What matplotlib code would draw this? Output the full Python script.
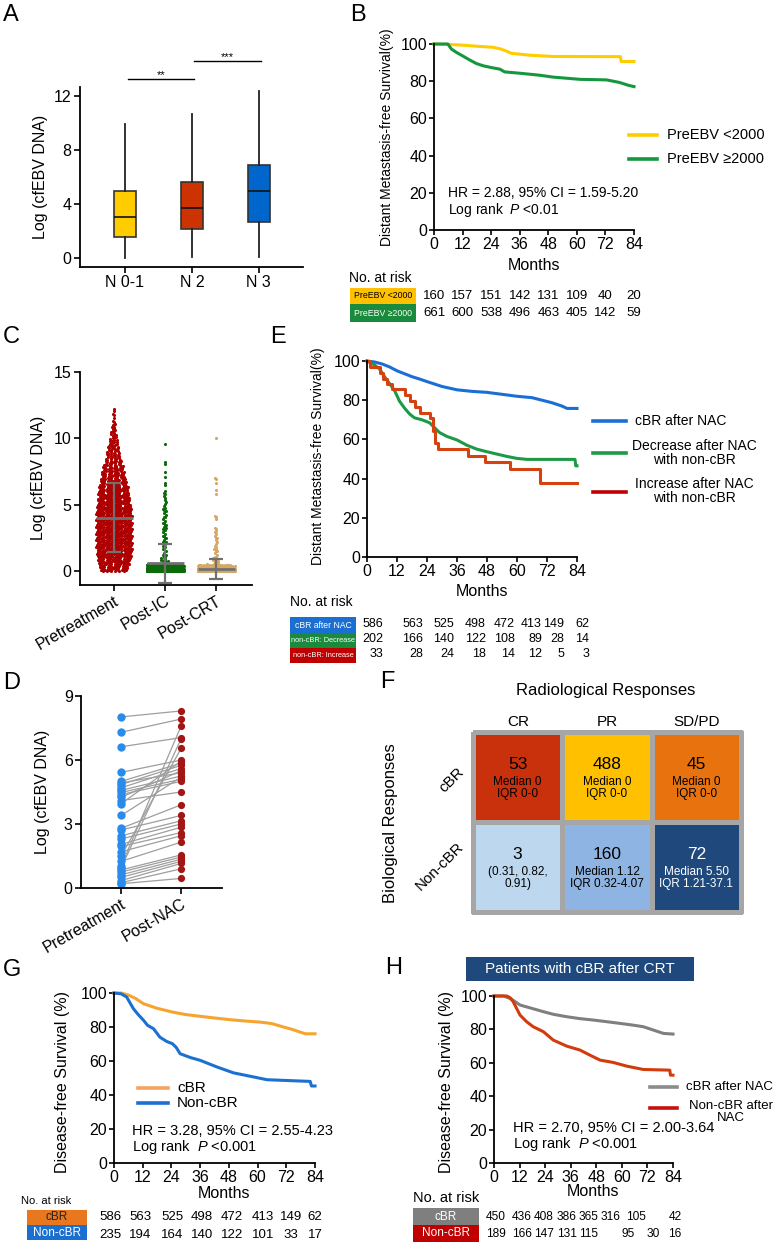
import numpy as np
import matplotlib
matplotlib.use('Agg')
import matplotlib.pyplot as plt
import matplotlib.transforms as mtransforms
from matplotlib.patches import Rectangle
from matplotlib.lines import Line2D
from matplotlib.colors import ListedColormap

plt.rcParams['font.family'] = ['Liberation Sans', 'DejaVu Sans']
plt.rcParams['mathtext.fontset'] = 'custom'
plt.rcParams['mathtext.rm'] = 'Liberation Sans'
plt.rcParams['mathtext.it'] = 'Liberation Sans:italic'
plt.rcParams['axes.linewidth'] = 1.3
plt.rcParams['xtick.major.width'] = 1.2
plt.rcParams['ytick.major.width'] = 1.2
plt.rcParams['xtick.major.size'] = 4
plt.rcParams['ytick.major.size'] = 4

# ---------------- data ----------------
# A: boxplots by N stage
a_groups = ['N 0-1', 'N 2', 'N 3']
a_whislo = [0.0, 0.07, 0.10]
a_q1 = [1.53, 2.12, 2.69]
a_med = [3.01, 3.70, 4.94]
a_q3 = [4.99, 5.60, 6.86]
a_whishi = [9.93, 10.64, 12.37]
a_colors = ['#FFCC00', '#CC3300', '#0066CC']

# B: DMFS by pretreatment EBV
b_low_t = [0, 9, 14, 19, 25, 28, 30, 32.5, 40, 50, 78.3, 78.6, 84]
b_low_s = [100, 99.6, 99.2, 98.7, 98.2, 97.3, 96.4, 95, 94, 93.3, 93.2, 90.6, 90.6]
b_high_t = [0, 5.8, 7.3, 9.4, 11.9, 15, 17.8, 20.6, 23.8, 27.6, 29.7, 35.9, 44.5, 50, 61.3, 72.5, 78, 81.6, 84]
b_high_s = [100, 100, 97.3, 95.5, 93.7, 91.4, 89.5, 88.3, 87.4, 86.5, 85, 84.3, 83.2, 82.2, 81, 80.7, 79.3, 77.8, 77.1]
b_risk_low = [160, 157, 151, 142, 131, 109, 40, 20]
b_risk_high = [661, 600, 538, 496, 463, 405, 142, 59]

# C: cfEBV DNA at three time points (point counts per value bin)
c_groups = ['Pretreatment', 'Post-IC', 'Post-CRT']
c_pre_lo = [0, 0.5, 1, 1.5, 2, 2.5, 3, 3.5, 4, 4.5, 5, 5.5, 6, 6.5, 7, 7.5, 8, 8.5, 9, 9.5, 10, 10.5, 11, 11.5, 12]
c_pre_hi = [0.5, 1, 1.5, 2, 2.5, 3, 3.5, 4, 4.5, 5, 5.5, 6, 6.5, 7, 7.5, 8, 8.5, 9, 9.5, 10, 10.5, 11, 11.5, 12, 12.4]
c_pre_n = [40, 45, 48, 50, 50, 50, 50, 50, 50, 48, 46, 44, 42, 38, 34, 30, 24, 20, 16, 12, 9, 6, 4, 3, 2]
c_ic_lo = [0, 0.25, 0.55, 1, 2, 3, 4, 5, 6, 7, 8, 9.5]
c_ic_hi = [0.25, 0.55, 1, 2, 3, 4, 5, 6, 7, 8, 8.5, 9.7]
c_ic_n = [450, 110, 10, 11, 11, 11, 10, 7, 3, 2, 2, 1]
c_crt_lo = [0, 0.2, 0.5, 1, 2, 3, 3.9, 5.8, 6.6, 9.9]
c_crt_hi = [0.2, 0.5, 1, 2, 3, 3.4, 4.3, 6.4, 7.2, 10.1]
c_crt_n = [480, 70, 10, 10, 8, 3, 3, 2, 3, 1]
c_colors = ['#AE0000', '#0B6B0B', '#D6A868']
c_mean = [4.02, 0.63, 0.15]
c_sd_lo = [1.43, -0.88, -0.63]
c_sd_hi = [6.60, 2.05, 0.88]

# D: paired values, increase group
d_pre = [8.02, 7.30, 6.62, 5.42, 5.00, 4.93, 4.85, 4.70, 4.58, 4.48, 4.38, 4.25, 4.10, 3.96, 3.40, 2.80,
         2.72, 2.45, 2.30, 2.05, 1.95, 1.70, 1.50, 1.25, 1.05, 0.95, 0.85, 0.75, 0.62, 0.50, 0.35, 0.25, 0.20]
d_post = [8.30, 7.92, 7.05, 6.00, 5.85, 5.40, 5.75, 5.60, 5.25, 5.10, 5.00, 5.50, 4.50, 5.95, 5.20, 3.90,
          3.40, 3.15, 3.00, 2.85, 2.60, 2.45, 6.55, 2.15, 7.60, 7.00, 1.55, 1.45, 1.35, 1.25, 1.15, 0.90, 0.45]

# E: DMFS by response group
e_cbr_t = [0, 3, 6, 9, 12, 15, 18, 21, 24, 30, 36, 42, 48, 54, 60, 66, 70, 74, 78, 80, 84]
e_cbr_s = [100, 99.5, 98.5, 97, 95, 93.5, 92, 90.8, 89.5, 87, 85.3, 84.5, 84, 83, 82, 81.3, 80, 78.7, 77, 75.8, 75.8]
e_dec_t = [0, 3, 5, 7, 9, 11, 13, 15, 17, 19, 22, 25, 27, 29, 32, 36, 40, 44, 48, 52, 56, 60, 64, 83.2, 83.5, 84]
e_dec_s = [100, 98, 96, 92, 88.5, 85, 79.5, 76, 73, 71, 70, 68.5, 66, 63.5, 61.5, 59.7, 57, 55, 53.7, 52.5,
           51.3, 50.3, 49.8, 49.8, 46.5, 46.5]
e_inc_t = [0, 1, 5, 6.5, 8, 10, 15.2, 17.2, 19.2, 21, 25.2, 26.5, 27.2, 28.5, 40.5, 47.2, 57.2, 69.2, 84]
e_inc_s = [100, 97, 94, 91, 88.5, 85.5, 82.6, 79.4, 76.5, 73.6, 70.7, 64.5, 58.2, 55, 51.6, 48.3, 44.7, 37.9, 37.9]
e_risk = [[586, 563, 525, 498, 472, 413, 149, 62],
          [202, 166, 140, 122, 108, 89, 28, 14],
          [33, 28, 24, 18, 14, 12, 5, 3]]
e_labels = ['cBR after NAC', 'non-cBR: Decrease', 'non-cBR: Increase']

# F: response matrix
f_cols = ['CR', 'PR', 'SD/PD']
f_rows = ['cBR', 'Non-cBR']
f_counts = [[53, 488, 45], [3, 160, 72]]
f_detail = [['Median 0\nIQR 0-0', 'Median 0\nIQR 0-0', 'Median 0\nIQR 0-0'],
            ['(0.31, 0.82,\n0.91)', 'Median 1.12\nIQR 0.32-4.07', 'Median 5.50\nIQR 1.21-37.1']]
f_colors = ['#C9310C', '#FFC000', '#E8720E', '#BDD7EE', '#8EB4E3', '#1F497D']

# G: DFS by cBR
g_cbr_t = [0, 3, 6, 9, 12.3, 18, 24.4, 30, 36, 42, 48.5, 55, 61, 66, 70.8, 74, 77.8, 80, 84]
g_cbr_s = [100, 100, 98.8, 96.8, 93.7, 91, 88.8, 87.3, 86.3, 85.3, 84.3, 83.5, 82.9, 82, 80, 78.8, 77, 76, 76]
g_non_t = [0, 3, 5.3, 8.1, 10, 12.3, 14, 16.5, 19.2, 22, 24.4, 26, 27.6, 32, 36, 43, 50, 58.4, 63.9, 70.9, 82, 82.5, 84]
g_non_s = [100, 99.5, 97.6, 90.8, 87.5, 84, 81, 79, 74, 71.5, 70.2, 68, 64.3, 62, 60.4, 56.5, 53, 50.6, 49,
           48.6, 48, 45.3, 45.3]
g_risk = [[586, 563, 525, 498, 472, 413, 149, 62], [235, 194, 164, 140, 122, 101, 33, 17]]

# H: DFS in patients with cBR after CRT
h_cbr_t = [0, 4.4, 8, 12.2, 18, 23.2, 28, 34.1, 40, 46.6, 53, 59.1, 65, 70.1, 74.8, 79.5, 84]
h_cbr_s = [100, 100, 98.3, 94.6, 92.5, 90.6, 89, 87.6, 86.5, 85.6, 84.6, 83.6, 82.6, 81.6, 79.6, 77.6, 77.2]
h_non_t = [0, 6, 7.5, 9, 12.2, 15.3, 18.4, 23.2, 27.8, 34.1, 40.4, 45, 49.8, 56, 62.3, 70.1, 82.5, 82.8, 84]
h_non_s = [100, 100, 99, 96.6, 88.6, 84.6, 81.6, 78.6, 73.6, 70, 67.6, 64.6, 61.6, 60.2, 58, 56, 55.6, 52.6, 52.6]
h_risk = [[450, 436, 408, 386, 365, 316, 105, 42], [189, 166, 147, 131, 115, 95, 30, 16]]

months = list(range(0, 85, 12))

# ---------------- figure ----------------
W, H = 776, 1242
fig = plt.figure(figsize=(W / 100, H / 100), dpi=100)
PX = mtransforms.Affine2D().scale(1.0 / W, -1.0 / H).translate(0, 1) + fig.transFigure


def add_ax(x0, y0, x1, y1):
    ax = fig.add_axes([x0 / W, 1 - y1 / H, (x1 - x0) / W, (y1 - y0) / H])
    for s in ['top', 'right']:
        ax.spines[s].set_visible(False)
    ax.tick_params(labelsize=11.5, pad=2)
    return ax


def txt(x, y, s, **kw):
    kw.setdefault('ha', 'center')
    kw.setdefault('va', 'center')
    return fig.text(x, y, s, transform=PX, **kw)


def box(x0, y0, x1, y1, color, label, tcolor='white', size=6.5):
    fig.add_artist(Rectangle((x0, y0), x1 - x0, y1 - y0, transform=PX, facecolor=color, edgecolor='none'))
    txt((x0 + x1) / 2, (y0 + y1) / 2, label, color=tcolor, fontsize=size)


def legline(x0, x1, y, color):
    fig.add_artist(Line2D([x0, x1], [y, y], transform=PX, color=color, lw=2.6))


def km_axes(ax, size=11.5):
    ax.set_xlim(0, 84)
    ax.set_ylim(0, 100)
    ax.set_xticks(months)
    ax.set_yticks(range(0, 101, 20))
    ax.tick_params(labelsize=size, length=3.5, pad=1.5)


def risk_row(xs, y, vals, size=9, ha='center'):
    for x, v in zip(xs, vals):
        txt(x, y, str(v), fontsize=size, ha=ha)


def letter(x, y, s):
    txt(x, y, s, ha='left', fontsize=17)


# ---- A ----
letter(3, 15, 'A')
axA = add_ax(80, 87, 303, 267)
stats = [dict(whislo=a_whislo[i], q1=a_q1[i], med=a_med[i], q3=a_q3[i], whishi=a_whishi[i], fliers=[])
         for i in range(3)]
bp = axA.bxp(stats, positions=range(3), widths=0.33, patch_artist=True, showfliers=False, showcaps=False,
             boxprops=dict(edgecolor='#333333', linewidth=1.2),
             medianprops=dict(color='#111111', linewidth=1.2),
             whiskerprops=dict(color='#222222', linewidth=1.3))
for patch, c in zip(bp['boxes'], a_colors):
    patch.set_facecolor(c)
axA.set_xlim(-0.67, 2.66)
axA.set_ylim(-0.67, 12.67)
axA.set_yticks([0, 4, 8, 12])
axA.set_xticks(range(3))
axA.set_xticklabels(a_groups, fontsize=11.5)
axA.plot([0.05, 1.03], [13.26, 13.26], color='k', lw=1, clip_on=False)
axA.plot([1.03, 2.03], [14.6, 14.6], color='k', lw=1, clip_on=False)
axA.text(0.54, 13.55, '**', ha='center', va='center', fontsize=8)
axA.text(1.53, 14.9, '***', ha='center', va='center', fontsize=8)
txt(40, 177, 'Log (cfEBV DNA)', rotation=90, fontsize=11.5)

# ---- B ----
letter(350, 15, 'B')
axB = add_ax(434, 44, 634, 230)
axB.plot(b_low_t, b_low_s, color='#FFCC00', lw=2.2, clip_on=False)
axB.plot(b_high_t, b_high_s, color='#14973E', lw=2.2, clip_on=False)
km_axes(axB)
txt(448, 193, 'HR = 2.88, 95% CI = 1.59-5.20', ha='left', fontsize=10)
txt(448, 210, 'Log rank  $\\mathit{P}$ <0.01', ha='left', fontsize=10)
legline(629, 657, 135, '#FFCC00')
legline(629, 657, 159, '#14973E')
txt(667, 135, 'PreEBV <2000', ha='left', fontsize=10.5)
txt(667, 159, 'PreEBV \u22652000', ha='left', fontsize=10.5)
txt(387, 137, 'Distant Metastasis-free Survival(%)', rotation=90, fontsize=10)
txt(534, 265, 'Months', fontsize=11.5)
txt(349, 278, 'No. at risk', ha='left', fontsize=10)
box(350, 288, 416, 304, '#FFC000', 'PreEBV <2000', tcolor='black', size=6.3)
box(350, 304, 416, 322, '#1A8A3C', 'PreEBV \u22652000', size=6.3)
b_cols = [434 + m * 200 / 84 for m in months]
risk_row(b_cols, 296, b_risk_low, size=9.5)
risk_row(b_cols, 313, b_risk_high, size=9.5)

# ---- C ----
letter(3, 337, 'C')
axC = add_ax(80, 372, 252, 585)
r2a, r2b = 0.7548776662, 0.5698402910
for gi, (los, his, ns) in enumerate([(c_pre_lo, c_pre_hi, c_pre_n), (c_ic_lo, c_ic_hi, c_ic_n),
                                      (c_crt_lo, c_crt_hi, c_crt_n)]):
    xs, ys = [], []
    for lo, hi, n in zip(los, his, ns):
        w = min(0.36, 0.0036 * n / (hi - lo))
        k = np.arange(n)
        xs.append(gi + w * (2 * ((0.5 + r2a * k) % 1) - 1))
        ys.append(lo + (hi - lo) * ((0.5 + r2b * k) % 1))
    axC.scatter(np.concatenate(xs), np.concatenate(ys), s=5, color=c_colors[gi], lw=0, zorder=2)
pos = np.arange(3)
axC.hlines(c_mean, pos - 0.36, pos + 0.36, color='#707070', lw=2, zorder=3)
axC.errorbar(pos, c_mean, yerr=[np.array(c_mean) - np.array(c_sd_lo), np.array(c_sd_hi) - np.array(c_mean)],
             fmt='none', ecolor='#707070', elinewidth=1.6, capsize=5, capthick=1.6, zorder=3)
axC.set_xlim(-0.67, 2.7)
axC.set_ylim(-1.05, 15)
axC.set_yticks([0, 5, 10, 15])
axC.set_xticks(pos)
axC.set_xticklabels(c_groups, rotation=30, ha='right', rotation_mode='anchor', fontsize=11.5)
txt(39, 478, 'Log (cfEBV DNA)', rotation=90, fontsize=11.5)

# ---- D ----
letter(3, 683, 'D')
axD = add_ax(81, 696, 222, 888)
for a, b in zip(d_pre, d_post):
    axD.plot([0, 1], [a, b], color='#9E9E9E', lw=0.9, zorder=1)
axD.plot(np.zeros(len(d_pre)), d_pre, 'o', color='#2A8BEA', ms=6, mew=0, zorder=2, clip_on=False)
axD.plot(np.ones(len(d_post)), d_post, 'o', color='#A31616', ms=5.2, mew=0, zorder=2, clip_on=False)
axD.set_xlim(-0.67, 1.68)
axD.set_ylim(0, 9)
axD.set_yticks([0, 3, 6, 9])
axD.set_xticks([0, 1])
axD.set_xticklabels(['Pretreatment', 'Post-NAC'], rotation=30, ha='right', rotation_mode='anchor', fontsize=11.5)
txt(42, 792, 'Log (cfEBV DNA)', rotation=90, fontsize=11.5)

# ---- E ----
letter(270, 337, 'E')
axE = add_ax(367, 361, 577, 557)
axE.plot(e_cbr_t, e_cbr_s, color='#1A6FD6', lw=2.2, clip_on=False)
axE.plot(e_dec_t, e_dec_s, color='#1C9A45', lw=2.2, clip_on=False)
axE.step(e_inc_t, e_inc_s, where='post', color='#D5420F', lw=2.2, clip_on=False)
km_axes(axE)
legline(593, 626, 421, '#1A6FD6')
legline(593, 626, 453, '#1C9A45')
legline(593, 626, 492, '#C00000')
txt(635, 421, 'cBR after NAC', ha='left', fontsize=10)
txt(694, 453, 'Decrease after NAC\nwith non-cBR', fontsize=10, linespacing=1.05)
txt(694, 491, 'Increase after NAC\nwith non-cBR', fontsize=10, linespacing=1.05)
txt(318, 456, 'Distant Metastasis-free Survival(%)', rotation=90, fontsize=10)
txt(482, 592, 'Months', fontsize=11.5)
txt(290, 602, 'No. at risk', ha='left', fontsize=10)
box(290, 617, 356, 633, '#1B6FD0', e_labels[0], size=6.2)
box(290, 633, 356, 648, '#1A8A3C', e_labels[1], size=5.3)
box(290, 648, 356, 663, '#C00000', e_labels[2], size=5.3)
e_right = [383, 423, 454, 486, 515, 542, 564, 589]
for row, y in zip(e_risk, [624, 639, 654]):
    risk_row(e_right, y, row, ha='right')

# ---- F ----
txt(380, 682, 'F', ha='left', fontsize=17)
axF = fig.add_axes([473 / W, 1 - 912 / H, (741 - 473) / W, (912 - 732) / H])
grid = np.arange(6).reshape(2, 3)
mesh = axF.pcolormesh(grid, cmap=ListedColormap(f_colors), edgecolors='#A6A6A6', linewidth=2.5, vmin=-0.5, vmax=5.5)
mesh.set_clip_on(False)
axF.set_xlim(0, 3)
axF.set_ylim(2, 0)
axF.axis('off')
for r in range(2):
    for c in range(3):
        tc = 'white' if (r == 1 and c == 2) else 'black'
        axF.text(c + 0.5, r + 0.36, str(f_counts[r][c]), ha='center', va='center', fontsize=12.5, color=tc)
        axF.text(c + 0.5, r + 0.62, f_detail[r][c], ha='center', va='center', fontsize=8.5, color=tc,
                 linespacing=1.05)
txt(606, 690, 'Radiological Responses', fontsize=12)
for c, name in enumerate(f_cols):
    txt(518 + c * 89.3, 722, name, fontsize=11)
txt(452, 780, f_rows[0], rotation=45, fontsize=11)
txt(440, 866, f_rows[1], rotation=45, fontsize=11)
txt(390, 823, 'Biological Responses', rotation=90, fontsize=12)

# ---- G ----
letter(3, 970, 'G')
axG = add_ax(114, 993, 315, 1163)
axG.plot(g_cbr_t, g_cbr_s, color='#F5A430', lw=2.2, clip_on=False)
axG.plot(g_non_t, g_non_s, color='#1C70D2', lw=2.2, clip_on=False)
km_axes(axG)
legline(138, 168, 1088, '#F4A460')
legline(138, 168, 1103, '#1C70D2')
txt(177, 1088, 'cBR', ha='left', fontsize=11)
txt(177, 1103, 'Non-cBR', ha='left', fontsize=11)
txt(132, 1131, 'HR = 3.28, 95% CI = 2.55-4.23', ha='left', fontsize=10.5)
txt(132, 1147, 'Log rank  $\\mathit{P}$ <0.001', ha='left', fontsize=10.5)
txt(63, 1082, 'Disease-free Survival (%)', rotation=90, fontsize=11.5)
txt(224, 1193, 'Months', fontsize=11.5)
txt(21, 1201, 'No. at risk', ha='left', fontsize=8)
box(27, 1210, 87, 1225, '#E8771E', 'cBR', tcolor='#222222', size=8.5)
box(27, 1225, 87, 1240, '#1A6FD0', 'Non-cBR', size=8.5)
g_cols = [110, 140, 172, 202, 232, 263, 291, 315]
risk_row(g_cols, 1217, g_risk[0], size=9.5)
risk_row(g_cols, 1235, g_risk[1], size=9.5)

# ---- H ----
letter(385, 968, 'H')
fig.add_artist(Rectangle((466, 957), 228, 24, transform=PX, facecolor='#1F497D', edgecolor='none'))
txt(580, 969, 'Patients with cBR after CRT', color='white', fontsize=11)
axH = add_ax(494, 996, 673, 1163)
axH.plot(h_cbr_t, h_cbr_s, color='#7F7F7F', lw=2.2, clip_on=False)
axH.plot(h_non_t, h_non_s, color='#D23C0C', lw=2.2, clip_on=False)
km_axes(axH)
legline(650, 677, 1087, '#8C8C8C')
legline(650, 677, 1108, '#C8100C')
txt(686, 1087, 'cBR after NAC', ha='left', fontsize=9.5)
txt(731, 1112, 'Non-cBR after\nNAC', fontsize=9.5, linespacing=1.05)
txt(513, 1128, 'HR = 2.70, 95% CI = 2.00-3.64', ha='left', fontsize=10.5)
txt(513, 1144, 'Log rank  $\\mathit{P}$ <0.001', ha='left', fontsize=10.5)
txt(447, 1082, 'Disease-free Survival (%)', rotation=90, fontsize=11.5)
txt(593, 1192, 'Months', fontsize=11.5)
txt(413, 1198, 'No. at risk', ha='left', fontsize=10.5)
box(413, 1208, 479, 1225, '#7F7F7F', 'cBR', size=8.5)
box(413, 1225, 479, 1242, '#C00000', 'Non-cBR', size=8.5)
risk_row([496, 522, 544, 567, 589, 611, 636, 675], 1217, h_risk[0], size=8.6)
risk_row([496, 522, 544, 567, 589, 628, 653, 675], 1234, h_risk[1], size=8.6)

fig.savefig('out.png', dpi=100, facecolor='white')
